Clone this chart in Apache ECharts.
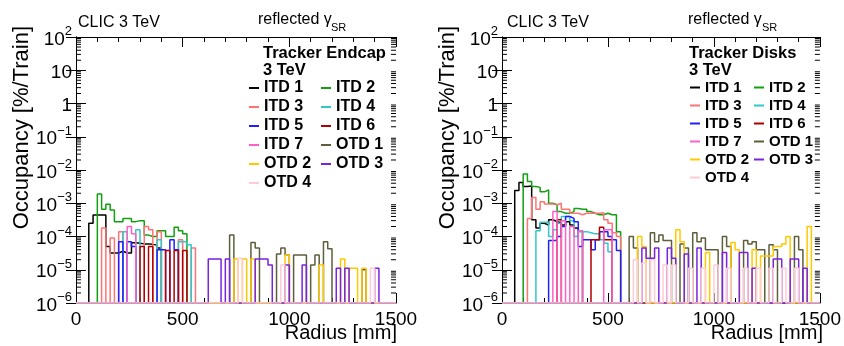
<!DOCTYPE html>
<html>
<head>
<meta charset="utf-8">
<script src="https://cdn.jsdelivr.net/npm/echarts@6/dist/echarts.min.js"></script>
<style>
  html, body { margin: 0; padding: 0; background: #fff; }
  #chart { width: 844px; height: 346px; }
</style>
</head>
<body>
<div id="chart"></div>
<script>
// Occupancy per train from reflected synchrotron photons, CLIC 3 TeV tracker.
// Histograms use 20 mm radius bins; a value of 0 marks an empty bin.
const binWidth = 20;
const radiusMax = 1500;
const yFloor = 1e-6;
const yCeil = 1e2;
const xTicks = [0, 500, 1000, 1500];

const seriesNames = ['ITD 1', 'ITD 2', 'ITD 3', 'ITD 4', 'ITD 5', 'ITD 6', 'ITD 7', 'OTD 1', 'OTD 2', 'OTD 3', 'OTD 4'];
const seriesColors = ['#000000', '#12a012', '#ff7373', '#30c8c8', '#1f1fff', '#b00000', '#ff60c8', '#5e5e3c', '#ffc800', '#7a22e0', '#ffccd6'];

// ---- Tracker Endcap: first bin edge (mm) per series, then bin contents ----
const endcapStart = [60, 100, 120, 220, 200, 300, 240, 720, 740, 620, 760];
const endcapITD1 = [2.5e-4, 4.4e-4, 4.4e-4, 4.4e-4, 5e-5, 3.2e-5, 3.2e-5, 3.6e-5, 3.2e-5, 3.2e-5, 6.5e-5, 6.3e-5, 6e-5, 6e-5, 5.8e-5, 5.5e-5, 4.5e-5];
const endcapITD2 = [1.9e-3, 6.6e-4, 9.3e-4, 6.3e-4, 2.8e-4, 2.8e-4, 3.5e-4, 3.5e-4, 2.8e-4, 3.0e-4, 3.0e-4, 1.1e-4, 1.0e-4, 1.0e-4, 1.5e-4, 1.5e-4, 1.0e-4, 1.0e-4, 1.9e-4, 1.5e-4, 1.2e-4];
const endcapITD3 = [1.8e-4, 0, 9e-5, 0, 1.4e-4, 0, 0, 0, 0, 0, 2e-4, 1.6e-4, 0, 1.4e-4, 0, 0, 0, 0, 8e-5, 0, 0, 4.5e-5];
const endcapITD4 = [1.4e-4, 0, 0, 1.6e-4, 0, 0, 0, 0, 8e-5, 0, 0, 0, 0, 7e-5, 7e-5, 5.6e-5];
const endcapITD5 = [7e-5, 0, 7e-5, 5e-5, 0, 0, 0, 0, 0, 4e-5, 4e-5, 0, 8e-5, 4e-5];
const endcapITD6 = [5e-5, 0, 5e-5, 0, 0, 0, 3.8e-5, 0, 3.8e-5, 0, 3.8e-5];
const endcapITD7 = [2e-4, 1.2e-4];
const endcapOTD1 = [1.1e-4, 0, 0, 0, 0, 6.6e-5, 4.5e-5, 0, 0, 0, 0, 3e-5, 4.5e-5, 2.8e-5, 0, 2.8e-5, 2.8e-5, 2.8e-5, 0, 1.4e-5, 2.8e-5, 0, 7e-5, 4.3e-5, 0, 0, 0, 0, 0, 0, 0, 1e-5];
const endcapOTD2 = [2.1e-5, 0, 2.1e-5, 0, 2.1e-5, 0, 0, 0, 0, 0, 0, 0, 2.8e-5, 0, 0, 0, 0, 0, 0, 0, 1.4e-5, 0, 0, 0, 0, 2.1e-5, 0, 1.1e-5, 1.1e-5, 0, 1.1e-5];
const endcapOTD3 = [2.1e-5, 2.1e-5, 2.1e-5, 0, 2.1e-5, 0, 0, 0, 0, 0, 0, 2.1e-5, 2.1e-5, 2.1e-5, 1.4e-5, 0, 0, 0, 1.4e-5, 0, 0, 0, 1.4e-5, 0, 0, 0, 0, 0, 0, 0, 1.1e-5, 0, 1.1e-5, 0, 0, 0, 0, 0, 0, 1.1e-5];
const endcapOTD4 = [2.2e-5, 0, 0, 0, 0, 0, 0, 0, 0, 0, 1.4e-5, 0, 0, 0, 0, 0, 0, 0, 0, 0, 0, 0, 0, 0, 0, 0, 0, 0, 0, 0, 0, 1.1e-5];

// ---- Tracker Disks ----
const diskStart = [60, 100, 120, 160, 220, 260, 240, 600, 640, 660, 620];
const diskITD1 = [2.4e-3, 4.2e-3, 3.2e-3, 3.3e-3, 3.2e-4, 1.8e-4, 2.5e-4, 2.2e-4, 3.2e-4, 2.8e-4, 2.6e-4, 2.2e-4, 2.8e-4, 2.2e-4, 1.8e-4, 1.5e-4];
const diskITD2 = [7.6e-3, 4.5e-3, 3.2e-3, 3e-3, 2.2e-3, 2.5e-3, 1e-3, 9e-4, 5.6e-4, 5e-4, 5e-4, 5.6e-4, 7e-4, 6.6e-4, 6.6e-4, 5.6e-4, 5e-4, 4.5e-4, 4.5e-4, 5e-4, 4.5e-4, 4.5e-4, 1.4e-4];
const diskITD3 = [3.5e-4, 1.5e-3, 6.6e-4, 1.1e-3, 9.5e-4, 9.5e-4, 9e-4, 1e-3, 6.6e-4, 6.6e-4, 5e-4, 5e-4, 4.5e-4, 5e-4, 5e-4, 5e-4, 5e-4, 5.2e-4, 3.2e-4, 2.5e-4, 1.3e-4, 1e-4];
const diskITD4 = [1.5e-4, 2.7e-4, 2.7e-4, 1e-4, 1.6e-4, 2.5e-4, 4e-4, 4e-4, 3e-4, 1e-4, 1.4e-4, 1.4e-4, 1.3e-4, 1.2e-4, 1.2e-4, 8e-5, 6.3e-5, 3.5e-5];
const diskITD5 = [7.6e-5, 7.6e-5, 1e-4, 2e-4, 4e-4, 3.5e-4, 2.8e-4, 5e-5, 8e-5, 8e-5, 4e-5, 8e-5, 1.4e-4, 1.4e-4, 1e-4, 8e-5, 3.8e-5];
const diskITD6 = [3.2e-4, 0, 0, 0, 0, 0, 0, 0, 8e-5, 8e-5, 1.9e-4, 8e-5, 8e-5];
const diskITD7 = [5.6e-4, 0, 3e-4, 0, 2e-4, 0, 1.5e-4, 0, 0, 0, 0, 0, 1.6e-4, 1.6e-4];
const diskOTD1 = [1e-4, 4.5e-5, 0, 0, 0, 1.3e-4, 7e-5, 1.1e-4, 7.6e-5, 7.6e-5, 0, 0, 6e-5, 4.5e-5, 0, 1.3e-4, 7e-5, 9e-5, 4e-5, 4e-5, 4e-5, 0, 1e-4, 5e-5, 0, 0, 0, 7.6e-5, 6e-5, 7e-5, 4e-5, 4e-5, 0, 5.6e-5, 4e-5, 0, 0, 0, 0, 1e-4, 4e-5];
const diskOTD2 = [1e-4, 5e-5, 0, 0, 0, 0, 0, 0, 0, 1.6e-4, 7e-5, 0, 0, 0, 0, 0, 3.3e-5, 0, 0, 0, 0, 0, 6.6e-5, 4e-5, 0, 0, 0, 4e-5, 0, 2.6e-5, 2.6e-5, 2.6e-5, 5e-5, 5e-5, 6e-5, 1e-4, 0, 0, 0, 0, 2e-4];
const diskOTD3 = [4.5e-5, 2.2e-5, 2.2e-5, 4.5e-5, 0, 0, 4.5e-5, 2.2e-5, 0, 0, 3e-5, 0, 0, 4.5e-5, 0, 0, 0, 0, 0, 3.3e-5, 0, 0, 0, 3.3e-5, 3.3e-5, 0, 1.1e-5, 0, 0, 0, 0, 2.1e-5, 2.1e-5, 0, 0, 2.1e-5, 2.1e-5, 0, 1.1e-5];
const diskOTD4 = [2e-5, 0, 1.6e-5, 0, 2e-5, 0, 0, 1.4e-5, 0, 1.4e-5, 0, 0, 0, 1.1e-5, 0, 0, 1.1e-5, 0, 0, 1.4e-5, 0, 0, 1.1e-5, 0, 0, 0, 1.1e-5, 0, 0, 1.1e-5, 0, 0, 1.1e-5, 0, 0, 1.1e-5, 0, 0, 1.1e-5];

const endcapValues = [endcapITD1, endcapITD2, endcapITD3, endcapITD4, endcapITD5, endcapITD6, endcapITD7, endcapOTD1, endcapOTD2, endcapOTD3, endcapOTD4];
const diskValues = [diskITD1, diskITD2, diskITD3, diskITD4, diskITD5, diskITD6, diskITD7, diskOTD1, diskOTD2, diskOTD3, diskOTD4];

const fontFamily = "'Liberation Sans', Arial, Helvetica, sans-serif";

// Step outline of a histogram; empty bins sit on the lower frame edge.
function histogramPath(start, values) {
  const pts = [[0, yFloor], [start, yFloor]];
  values.forEach((v, i) => {
    const x0 = start + i * binWidth;
    const y = v > 0 ? v : yFloor;
    pts.push([x0, y], [x0 + binWidth, y]);
  });
  const end = start + values.length * binWidth;
  pts.push([end, yFloor], [radiusMax, yFloor]);
  return pts;
}

// Log-axis minor tick positions (2..9 x 10^k).
const minorTickValues = [];
for (let k = Math.round(Math.log10(yFloor)); k < Math.round(Math.log10(yCeil)); k++) {
  for (let m = 2; m <= 9; m++) minorTickValues.push([0, m * Math.pow(10, k)]);
}

const panels = [
  { left: 76, right: 448, starts: endcapStart, values: endcapValues, header: 'Tracker Endcap',
    legendLeft: 249, legendWidth: 145, legendTextWidth: 54, legendFont: 16, headerX: 263, headerFont: 16.5,
    clicX: 78, reflX: 258, srX: 331, yTitleX: 22, xTitleX: 397 },
  { left: 502, right: 22, starts: diskStart, values: diskValues, header: 'Tracker Disks',
    legendLeft: 690, legendWidth: 126, legendTextWidth: 46, legendFont: 15, headerX: 689, headerFont: 16.5,
    clicX: 507, reflX: 688, srX: 762, yTitleX: 448, xTitleX: 823 }
];

function yLabel(v) {
  const e = Math.round(Math.log10(v));
  if (e === 0) return '{b|1}';
  if (e === 1) return '{b|10}';
  return '{b|10}{s|' + (e < 0 ? '\u2212' + (-e) : String(e)) + '}';
}

const grid = [], xAxis = [], yAxis = [], series = [], legend = [], graphic = [];

panels.forEach((p, pi) => {
  grid.push({ left: p.left, right: p.right, top: 37, bottom: 43, containLabel: false });

  const tick = { inside: true, length: 10, lineStyle: { color: '#000', width: 1 } };
  const minor = { show: true, splitNumber: 5, length: 5, lineStyle: { color: '#000', width: 1 } };
  xAxis.push({
    gridIndex: pi, type: 'value', position: 'bottom', min: xTicks[0], max: xTicks[xTicks.length - 1],
    interval: xTicks[1] - xTicks[0],
    axisLine: { show: true, lineStyle: { color: '#000', width: 1 } },
    axisTick: tick, minorTick: minor, splitLine: { show: false },
    axisLabel: { color: '#000', fontSize: 19, fontFamily, margin: 7, showMinLabel: true, showMaxLabel: true,
                 formatter: v => String(v) }
  });
  xAxis.push({
    gridIndex: pi, type: 'value', position: 'top', min: xTicks[0], max: xTicks[xTicks.length - 1],
    interval: xTicks[1] - xTicks[0],
    axisLine: { show: true, lineStyle: { color: '#000', width: 1 } },
    axisTick: tick, minorTick: minor, splitLine: { show: false }, axisLabel: { show: false }
  });
  yAxis.push({
    gridIndex: pi, type: 'log', logBase: 10, position: 'left', min: yFloor, max: yCeil,
    axisLine: { show: true, lineStyle: { color: '#000', width: 1 } },
    axisTick: tick, splitLine: { show: false },
    axisLabel: {
      interval: 0, showMinLabel: true, showMaxLabel: true, margin: 4, formatter: yLabel,
      rich: {
        b: { fontSize: 19, fontFamily, color: '#000', lineHeight: 24, verticalAlign: 'bottom' },
        s: { fontSize: 13, fontFamily, color: '#000', lineHeight: 13, verticalAlign: 'top' }
      }
    }
  });
  yAxis.push({
    gridIndex: pi, type: 'log', logBase: 10, position: 'right', min: yFloor, max: yCeil,
    axisLine: { show: true, lineStyle: { color: '#000', width: 1 } },
    axisTick: tick, splitLine: { show: false }, axisLabel: { show: false }
  });

  // minor ticks of the log scale on both vertical frame edges
  series.push({
    type: 'custom', xAxisIndex: 2 * pi, yAxisIndex: 2 * pi, silent: true, z: 1,
    data: minorTickValues,
    renderItem: (params, api) => {
      const v = api.value(1);
      const a = api.coord([xTicks[0], v]);
      const b = api.coord([xTicks[xTicks.length - 1], v]);
      return {
        type: 'group', children: [
          { type: 'line', shape: { x1: a[0], y1: a[1], x2: a[0] + 5, y2: a[1] }, style: { stroke: '#000', lineWidth: 1 } },
          { type: 'line', shape: { x1: b[0] - 5, y1: b[1], x2: b[0], y2: b[1] }, style: { stroke: '#000', lineWidth: 1 } }
        ]
      };
    }
  });

  seriesNames.forEach((name, i) => {
    series.push({
      type: 'line', name, xAxisIndex: 2 * pi, yAxisIndex: 2 * pi,
      data: histogramPath(p.starts[i], p.values[i]),
      showSymbol: false, symbol: 'none', silent: true, z: 3,
      lineStyle: { color: seriesColors[i], width: 1.5 },
      itemStyle: { color: seriesColors[i] }
    });
  });

  legend.push({
    left: p.legendLeft, top: 80, width: p.legendWidth, orient: 'horizontal', padding: 0,
    itemGap: 3, itemWidth: 10, itemHeight: 2, icon: 'rect', selectedMode: false,
    data: seriesNames,
    textStyle: { fontFamily, fontSize: p.legendFont, fontWeight: 'bold', color: '#000',
                 width: p.legendTextWidth, lineHeight: 14.6, overflow: 'none' }
  });

  const txt = (x, y, text, size, weight, align, extra) => Object.assign({
    type: 'text', x, y, silent: true,
    style: { text, fontSize: size, fontWeight: weight, fontFamily, fill: '#000',
             textAlign: align, textVerticalAlign: 'middle' }
  }, extra || {});

  graphic.push(txt(p.clicX, 23, 'CLIC 3 TeV', 16, 'normal', 'left'));
  graphic.push(txt(p.reflX, 20, 'reflected \u03b3', 16, 'normal', 'left'));
  graphic.push(txt(p.srX, 28, 'SR', 11, 'normal', 'left'));
  graphic.push(txt(p.headerX, 53, p.header, p.headerFont, 'bold', 'left'));
  graphic.push(txt(p.headerX, 70, '3 TeV', p.headerFont, 'bold', 'left'));
  graphic.push(txt(p.xTitleX, 333, 'Radius [mm]', 20, 'normal', 'right'));
  graphic.push(txt(p.yTitleX, 26, 'Occupancy [%/Train]', 22, 'normal', 'right',
                   { rotation: Math.PI / 2 }));
});

const chart = echarts.init(document.getElementById('chart'), null, { renderer: 'canvas' });
chart.setOption({
  animation: false,
  backgroundColor: '#ffffff',
  grid, xAxis, yAxis, series, legend, graphic
});
</script>
</body>
</html>
